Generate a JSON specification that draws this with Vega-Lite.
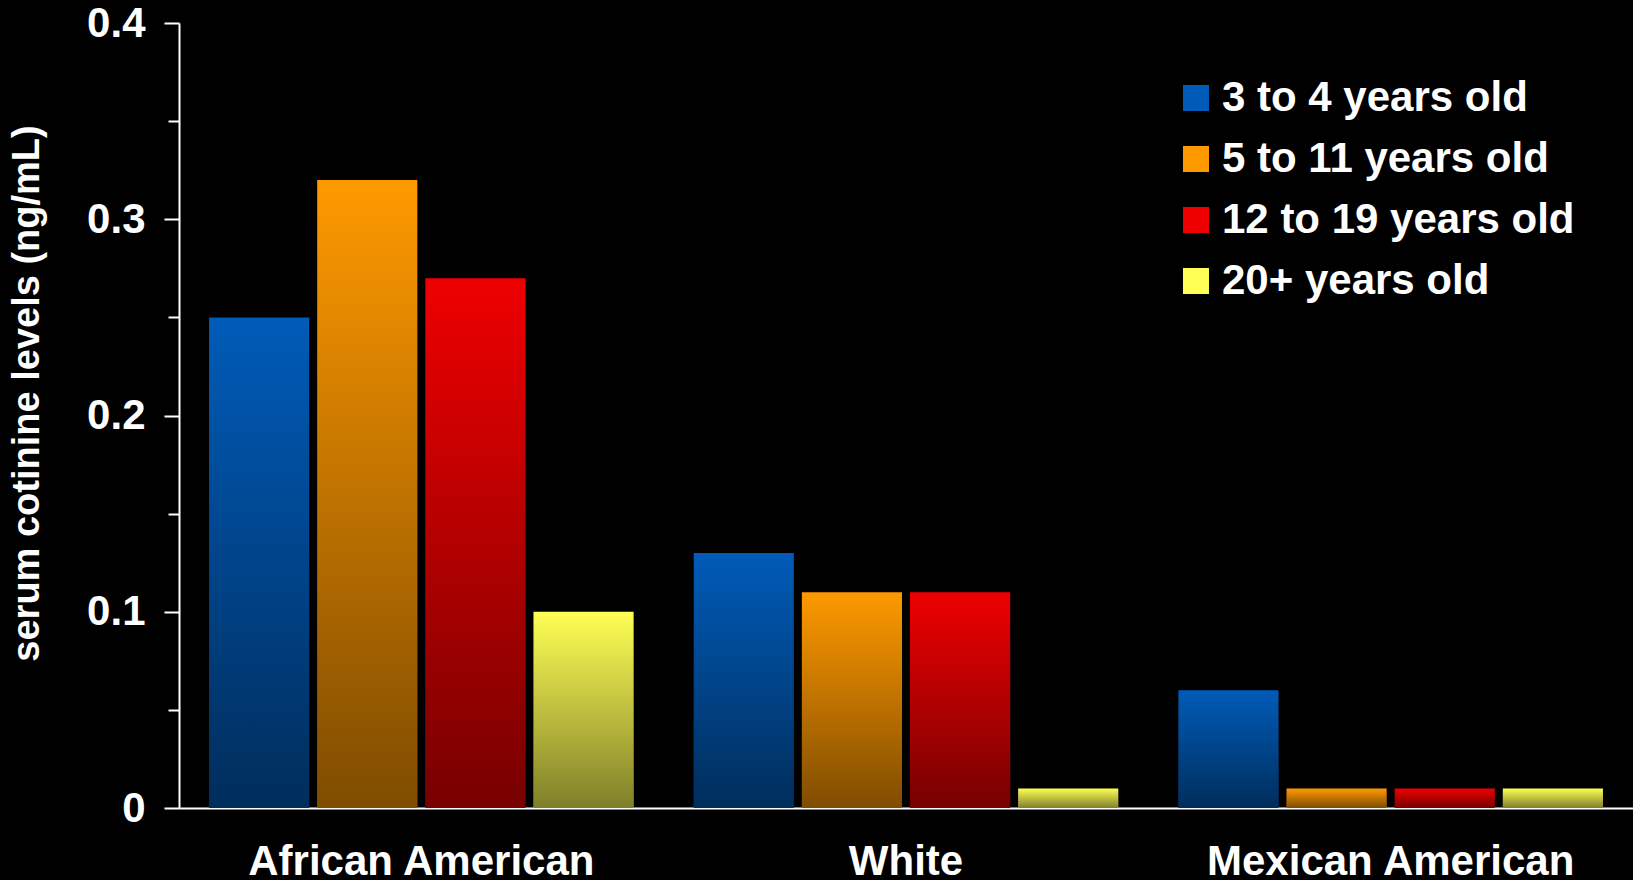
{
  "$schema": "https://vega.github.io/schema/vega-lite/v6.json",
  "width": 1454,
  "height": 785,
  "autosize": {"type": "none"},
  "padding": {"left": 179, "top": 23, "right": 0, "bottom": 72},
  "background": "black",
  "config": {
    "view": {"stroke": null},
    "font": "Liberation Sans",
    "axis": {"domainColor": "white", "domainWidth": 2, "tickColor": "white", "tickWidth": 2, "labelColor": "white", "titleColor": "white", "labelFont": "Liberation Sans", "titleFont": "Liberation Sans", "labelFontWeight": "bold", "titleFontWeight": "bold", "grid": false, "labelLimit": 0},
    "legend": {"labelColor": "white", "labelFont": "Liberation Sans", "labelFontWeight": "bold", "labelLimit": 0}
  },
  "data": {
    "values": [
      {"group": "African American", "age": "3 to 4 years old", "value": 0.25},
      {"group": "African American", "age": "5 to 11 years old", "value": 0.32},
      {"group": "African American", "age": "12 to 19 years old", "value": 0.27},
      {"group": "African American", "age": "20+ years old", "value": 0.10},
      {"group": "White", "age": "3 to 4 years old", "value": 0.13},
      {"group": "White", "age": "5 to 11 years old", "value": 0.11},
      {"group": "White", "age": "12 to 19 years old", "value": 0.11},
      {"group": "White", "age": "20+ years old", "value": 0.01},
      {"group": "Mexican American", "age": "3 to 4 years old", "value": 0.06},
      {"group": "Mexican American", "age": "5 to 11 years old", "value": 0.01},
      {"group": "Mexican American", "age": "12 to 19 years old", "value": 0.01},
      {"group": "Mexican American", "age": "20+ years old", "value": 0.01}
    ]
  },
  "encoding": {
    "x": {
      "field": "group", "type": "nominal",
      "sort": ["African American", "White", "Mexican American"],
      "scale": {"paddingInner": 0.124, "paddingOuter": 0.062},
      "axis": {"title": null, "labelAngle": 0, "ticks": false, "labelFontSize": 42, "labelPadding": 33, "labelBaseline": "top", "labelLimit": 0}
    },
    "xOffset": {
      "field": "age", "type": "nominal",
      "sort": ["3 to 4 years old", "5 to 11 years old", "12 to 19 years old", "20+ years old"],
      "scale": {"paddingInner": 0.074, "paddingOuter": 0}
    },
    "y": {
      "field": "value", "type": "quantitative",
      "scale": {"domain": [0, 0.4], "nice": false},
      "axis": {
        "title": "serum cotinine levels (ng/mL)",
        "titleFontSize": 38,
        "titleX": -133,
        "titleY": 370,
        "titleAngle": -90,
        "titleAlign": "center",
        "titleBaseline": "bottom",
        "values": [0, 0.05, 0.1, 0.15, 0.2, 0.25, 0.3, 0.35, 0.4],
        "format": ".1~f",
        "labelExpr": "round(datum.value * 20) % 2 == 0 ? datum.label : ''",
        "labelFontSize": 42,
        "labelPadding": 19,
        "tickSize": {"condition": {"test": "round(datum.value * 20) % 2 == 0", "value": 15}, "value": 11}
      }
    }
  },
  "layer": [
    {
      "mark": {"type": "bar"},
      "encoding": {
        "color": {
          "field": "age", "type": "nominal",
          "sort": ["3 to 4 years old", "5 to 11 years old", "12 to 19 years old", "20+ years old"],
          "scale": {"domain": ["3 to 4 years old", "5 to 11 years old", "12 to 19 years old", "20+ years old"], "range": ["#005BB8", "#FF9900", "#EE0000", "#FFFF55"]},
          "legend": {
            "title": null,
            "orient": "none",
            "legendX": 996,
            "legendY": 54,
            "padding": 0,
            "symbolType": "square",
            "symbolSize": 676,
            "symbolStrokeWidth": 0,
            "labelFontSize": 42,
            "labelOffset": 5,
            "labelLimit": 0,
            "rowPadding": 19
          }
        }
      }
    },
    {
      "mark": {
        "type": "bar",
        "fill": {"gradient": "linear", "x1": 0, "y1": 0, "x2": 0, "y2": 1, "stops": [{"offset": 0, "color": "rgba(0,0,0,0)"}, {"offset": 1, "color": "rgba(0,0,0,0.5)"}]}
      },
      "encoding": {}
    }
  ]
}
